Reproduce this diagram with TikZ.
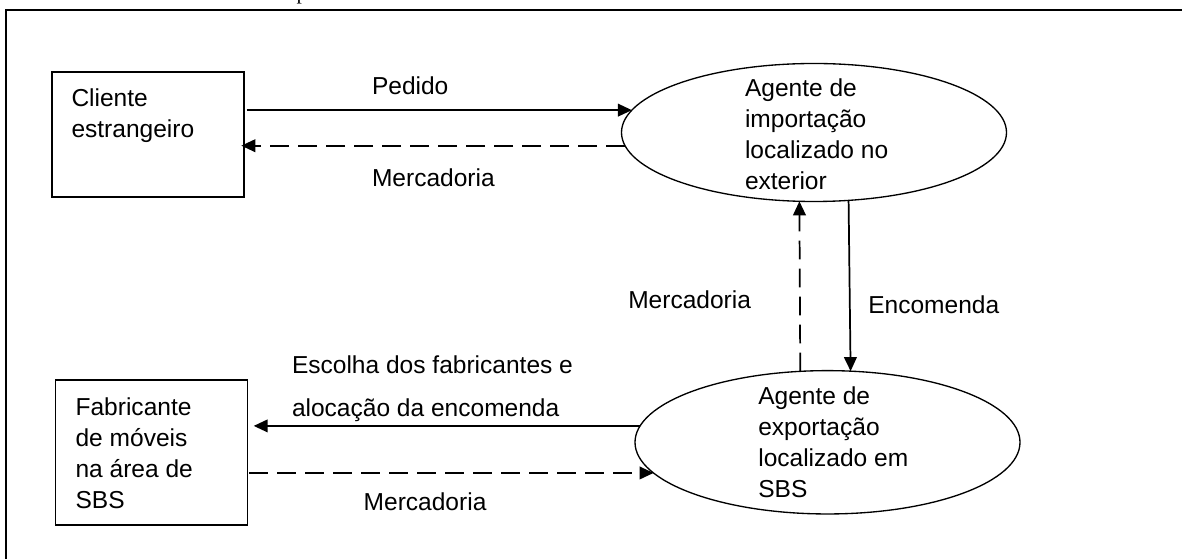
\documentclass[tikz,border=0pt]{standalone}
\usepackage{fontspec}
\setmainfont{Liberation Sans}
\newfontfamily\serifcut{Liberation Serif}
\usetikzlibrary{arrows.meta,shapes.geometric}
\newcommand{\mlines}[1]{\parbox[t]{220pt}{\raggedright #1}}
\begin{document}
\begin{tikzpicture}[x=0.75pt,y=-0.75pt,
  every node/.style={inner sep=0pt, outer sep=0pt},
  txt/.style={anchor=base west, font=\fontsize{18.4pt}{23.25pt}\selectfont},
  entity/.style={draw, rectangle, line width=1.1pt, minimum width=144pt},
  agent/.style={draw, ellipse, line width=1pt, minimum width=288.75pt},
  flow/.style={line width=1.3pt, -{Triangle[length=10.5pt,width=9.5pt]}},
  goods/.style={flow, dash pattern=on 14pt off 7pt}]
\useasboundingbox (0,0) rectangle (1182,559);
\clip (0,0) rectangle (1182,559);
% outer frame (cut off at the right and bottom)
\draw[line width=1.5pt] (6,575) -- (6,10.5) -- (1200,10.5);
\node[anchor=base west, font=\serifcut\fontsize{16pt}{19pt}\selectfont] (cut) at (296.5,0) {p};
% entities
\node[entity, minimum height=93.75pt] (cli) at (148,134.5) {};
\node[txt] (clitxt) at (71.5,106.7) {\mlines{Cliente\\estrangeiro}};
\node[entity, minimum height=108.75pt] (fab) at (151.7,452.5) {};
\node[txt] (fabtxt) at (75.6,416) {\mlines{Fabricante\\de móveis\\na área de\\SBS}};
% agents
\node[agent, minimum height=103.5pt] (imp) at (814,132.5) {};
\node[txt] (imptxt) at (745,96.7) {\mlines{Agente de\\importação\\localizado no\\exterior}};
\node[agent, minimum height=107.5pt] (exp) at (827.5,442.3) {};
\node[txt] (exptxt) at (758.3,405) {\mlines{Agente de\\exportação\\localizado em\\SBS}};
% connectors
\draw[flow] ([xshift=2pt]cli.east |- imp.173.12) -- (imp.173.12);
\draw[goods] (imp.184.31) -- ([xshift=-2pt]cli.east |- imp.184.31);
\draw[flow] (imp.297.5) -- (exp.72.99);
\draw[goods] (exp.111.18) -- (imp.258.5);
\draw[flow] (exp.175.35) -- ([xshift=4.5pt]fab.east |- exp.175.35);
\draw[goods] ([xshift=1pt]fab.east |- exp.190.81) -- (exp.190.81);
% labels
\node[txt] (lpedido) at (372,95) {Pedido};
\node[txt] (lmerc1) at (372,186.7) {Mercadoria};
\node[txt] (lmerc2) at (628.3,309) {Mercadoria};
\node[txt] (lenc) at (868.3,313.3) {Encomenda};
\node[txt] (lesc1) at (292,373.3) {Escolha dos fabricantes e};
\node[txt] (lesc2) at (292,416.7) {alocação da encomenda};
\node[txt] (lmerc3) at (363.7,510) {Mercadoria};
\end{tikzpicture}
\end{document}
